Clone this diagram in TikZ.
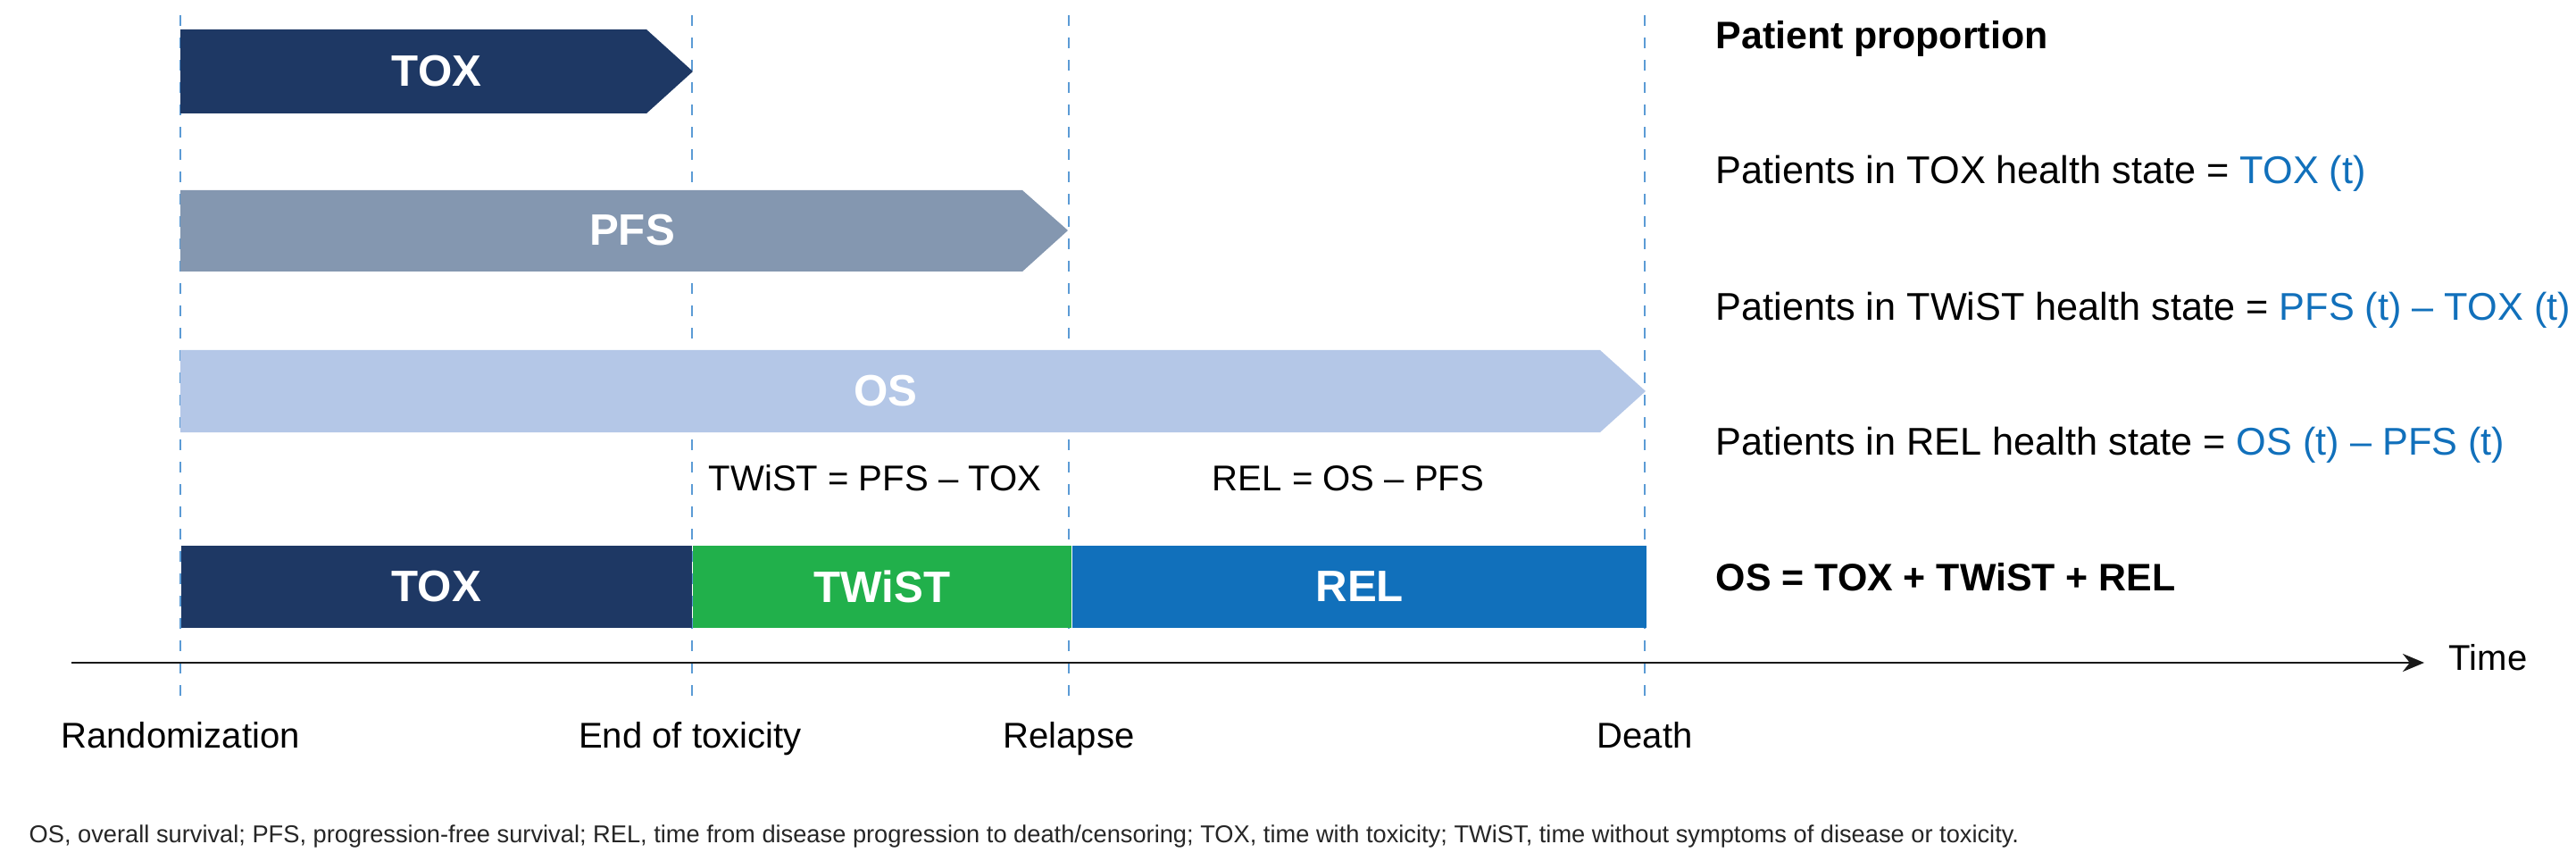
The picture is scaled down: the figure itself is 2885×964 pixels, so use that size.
\documentclass[tikz,border=0pt]{standalone}
\usepackage{fontspec}
\setmainfont{Liberation Sans}
\usepackage{tikz}
\usepackage{xcolor}
\usetikzlibrary{positioning,arrows.meta}
\definecolor{toxcol}{HTML}{1E3864}
\definecolor{pfscol}{HTML}{8497B0}
\definecolor{oscol}{HTML}{B4C7E7}
\definecolor{twistcol}{HTML}{21B04B}
\definecolor{relcol}{HTML}{1170BB}
\definecolor{evcol}{HTML}{5B9BD5}
\definecolor{notecol}{HTML}{262626}
\tikzset{
evline/.style={draw=evcol,line width=0.55pt,dash pattern=on 0.12cm off 0.13cm},
bartext/.style={text=white,inner sep=0pt,font=\bfseries\fontsize{14}{16}\selectfont},
stackbar/.style={rectangle,inner sep=0pt,minimum height=0.92cm,text=white,
  font=\bfseries\fontsize{14}{16}\selectfont},
evlabel/.style={anchor=base,inner sep=0pt,font=\fontsize{11.4}{13}\selectfont},
proptext/.style={anchor=base west,inner sep=0pt,font=\fontsize{12.3}{15}\selectfont},
prophead/.style={anchor=base west,inner sep=0pt,font=\bfseries\fontsize{12.2}{15}\selectfont},
timeaxis/.style={line width=0.7pt,draw=black!90,-{Stealth[length=0.24cm,width=0.2cm]}},
}
\newcommand{\bl}[1]{\textcolor{relcol}{#1}}
\begin{document}
\begin{tikzpicture}[x=0.01cm,y=-0.01cm]
\useasboundingbox (0,0) rectangle (2885,964);
% the event lines
\foreach \t in {202,775,1197,1842}
{
  \draw[evline] (\t,17) -- (\t,789);
}
% the survival curves as arrows
\fill[toxcol] (202,33) -- (724,33) -- (776,80) -- (724,127) -- (202,127) -- cycle;
\node[bartext] (toxarr) at (489,80) {TOX};
\fill[pfscol] (202,213) -- (1145,213) -- (1196,258) -- (1145,304) -- (202,304) -- cycle;
\node[bartext] (pfsarr) at (708,258) {PFS};
\fill[oscol] (202,392) -- (1792,392) -- (1843,438) -- (1792,484) -- (202,484) -- cycle;
\node[bartext] (osarr) at (992,438) {OS};
% the differences
\node[evlabel] (twisteq) at (980,549) {TWiST = PFS -- TOX};
\node[evlabel] (releq) at (1510,549) {REL = OS -- PFS};
% the health states
\node[stackbar,fill=toxcol,minimum width=5.72cm,anchor=west] (btox) at (202,657) {TOX};
\node[stackbar,fill=twistcol,minimum width=4.23cm,right=0pt of btox] (btwist) {TWiST};
\node[stackbar,fill=relcol,minimum width=6.43cm,right=0pt of btwist] (brel) {REL};
% the time axis
\coordinate (tstart) at (80,742);
\coordinate (tend) at (2715,742);
\node[anchor=base west,inner sep=0pt,font=\fontsize{11.4}{13}\selectfont] (time) at (2742,750) {Time};
\draw[timeaxis] (tstart) -- (tend);
\node[evlabel] (rando) at (202,837) {Randomization};
\node[evlabel] (endtox) at (773,837) {End of toxicity};
\node[evlabel] (relapse) at (1197,837) {Relapse};
\node[evlabel] (death) at (1842,837) {Death};
% the patient proportions
\node[prophead] (prop) at (1921,55) {Patient proportion};
\node[proptext] (ptox) at (1921,206) {Patients in TOX health state = \bl{TOX (t)}};
\node[proptext] (ptwist) at (1921,359) {Patients in TWiST health state = \bl{PFS (t) -- TOX (t)}};
\node[proptext] (prel) at (1921,509) {Patients in REL health state = \bl{OS (t) -- PFS (t)}};
\node[prophead] (psum) at (1921,661) {OS = TOX + TWiST + REL};
% the footnote
\node[anchor=base west,inner sep=0pt,text=notecol,font=\fontsize{7.75}{9}\selectfont] (note) at (32,943)
  {OS, overall survival; PFS, progression-free survival; REL, time from disease progression to death/censoring; TOX, time with toxicity; TWiST, time without symptoms of disease or toxicity.};
\end{tikzpicture}
\end{document}
